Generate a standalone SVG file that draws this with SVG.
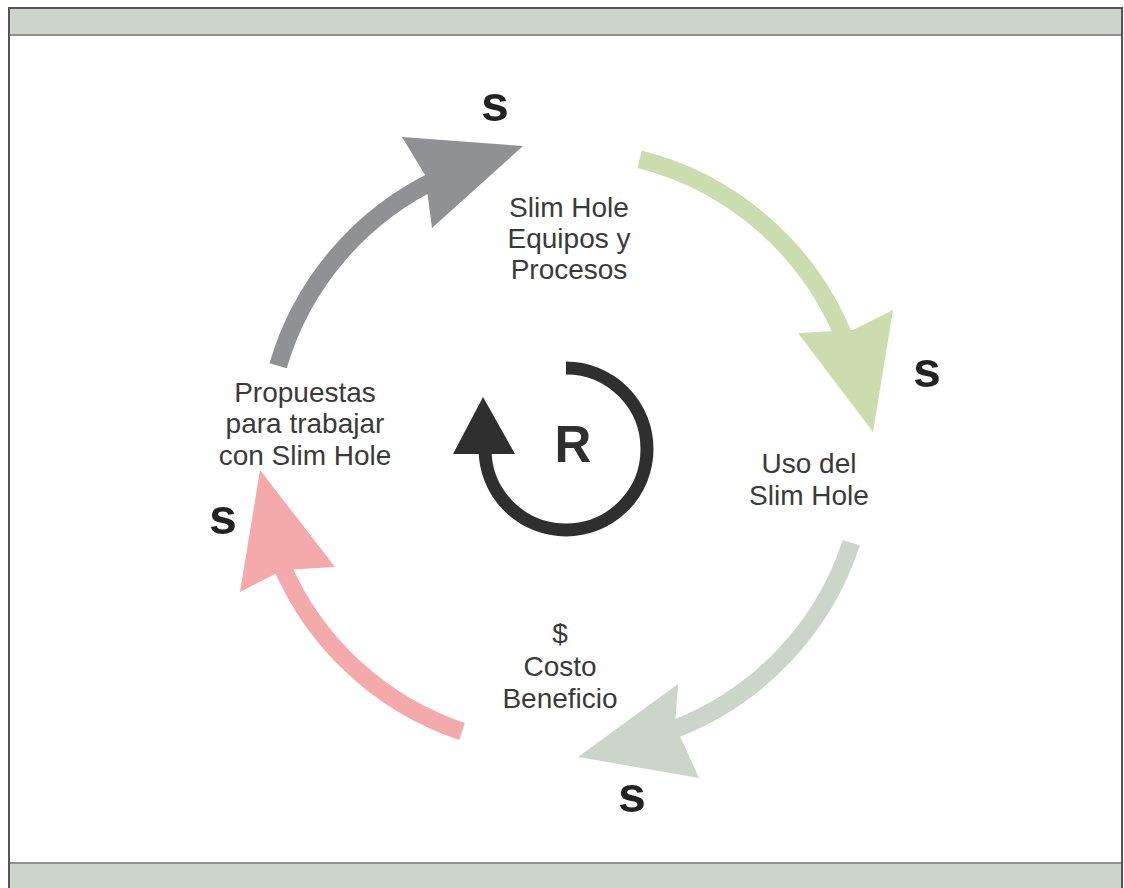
<svg xmlns="http://www.w3.org/2000/svg" width="1124" height="888" viewBox="0 0 1124 888">
<style>
.lbl{font-family:"Liberation Sans",Arial,sans-serif;font-size:28px;fill:#3a3a3a;text-anchor:middle}
.s{font-family:"Liberation Sans",Arial,sans-serif;font-size:50px;font-weight:bold;fill:#222;text-anchor:middle}
.shaft{fill:none;stroke-width:18;stroke-linecap:butt}
</style>
<rect x="0" y="0" width="1124" height="888" fill="#ffffff"/>
<g id="frame">
<rect x="9" y="8" width="1113" height="27" fill="#cdd5cc"/>
<rect x="9" y="863" width="1113" height="30" fill="#cdd5cc"/>
<line x1="9" y1="35" x2="1122" y2="35" stroke="#8f918f" stroke-width="2"/>
<line x1="9" y1="863" x2="1122" y2="863" stroke="#8f918f" stroke-width="2"/>
<path d="M9,892 V8 H1122 V892" fill="none" stroke="#555" stroke-width="2"/>
</g>
<g id="connectors">
<g id="arrow-gray">
<path class="shaft" stroke="#8f9194" d="M278.1,365.8 A300,300 0 0 1 439.2,178.1"/>
<polygon fill="#8f9194" points="402,137 523,146 432,228 425,175"/>
</g>
<g id="arrow-green">
<path class="shaft" stroke="#cbdcaf" d="M639.6,159.2 A300,300 0 0 1 847.9,347.4"/>
<polygon fill="#cbdcaf" points="798,333 853,330 893,310 873,432"/>
</g>
<g id="arrow-graygreen">
<path class="shaft" stroke="#cbd5ca" d="M851.3,542.7 A300,300 0 0 1 675,729"/>
<polygon fill="#cbd5ca" points="678,684 675,725 699,778 578,757"/>
</g>
<g id="arrow-pink">
<path class="shaft" stroke="#f4a9ab" d="M462,731.5 A300,300 0 0 1 282,566"/>
<polygon fill="#f4a9ab" points="335,567 283,570 240,592 260,470"/>
</g>
</g>
<g id="loop-R">
<path d="M566,368 A81,81 0 1 1 485,449" fill="none" stroke="#2f2f2f" stroke-width="13"/>
<polygon fill="#2f2f2f" points="483,397 453,454 515,454"/>
<text x="573" y="462" font-family="Liberation Sans, Arial, sans-serif" font-size="51" font-weight="bold" fill="#2f2f2f" text-anchor="middle">R</text>
</g>
<g id="node-equipos">
<text class="lbl" x="569" y="217">Slim Hole</text>
<text class="lbl" x="569" y="248">Equipos y</text>
<text class="lbl" x="569" y="279">Procesos</text>
</g>
<g id="node-uso">
<text class="lbl" x="809" y="473">Uso del</text>
<text class="lbl" x="809" y="505">Slim Hole</text>
</g>
<g id="node-costo">
<text class="lbl" x="560" y="643">$</text>
<text class="lbl" x="560" y="676">Costo</text>
<text class="lbl" x="560" y="708">Beneficio</text>
</g>
<g id="node-propuestas">
<text class="lbl" x="305" y="402">Propuestas</text>
<text class="lbl" x="305" y="433">para trabajar</text>
<text class="lbl" x="305" y="465">con Slim Hole</text>
</g>
<g id="signs">
<text class="s" x="495" y="121">s</text>
<text class="s" x="927" y="387">s</text>
<text class="s" x="632" y="812">s</text>
<text class="s" x="223" y="534">s</text>
</g>
</svg>
